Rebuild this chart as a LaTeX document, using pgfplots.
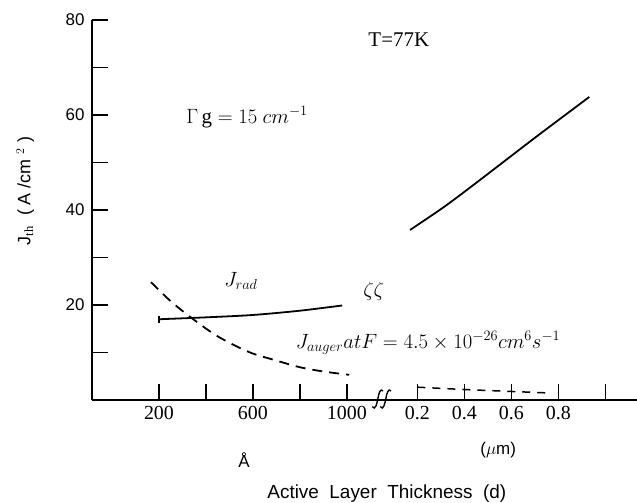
\documentclass[border=0pt]{standalone}
\usepackage{fontspec}
\setmainfont{Liberation Serif}
\setsansfont{Liberation Sans}
\usepackage{pgfplots}
\pgfplotsset{compat=1.18}

\begin{document}
\begin{tikzpicture}
\useasboundingbox (-92bp,-103bp) rectangle (545bp,400bp);
\begin{axis}[
    at={(0,0)}, anchor=south west,
    scale only axis,
    width=545bp, height=380bp,
    xmin=-85, xmax=2235,
    ymin=0, ymax=80,
    axis lines=left,
    axis line style={-, line width=1.8pt},
    clip=false,
    xtick={200,400,600,800,1000,1300,1500,1700,1900,2100},
    xticklabels={200,,600,,1000,0.2,0.4,0.6,0.8,},
    ytick={10,20,30,40,50,60,70,80},
    yticklabels={,20,,40,,60,,80},
    tick align=inside,
    major tick length=16bp,
    tick style={black, line width=1.4pt},
    /pgf/number format/assume math mode=true,
    xticklabel style={font=\rmfamily\fontsize{20}{20}\selectfont, yshift=-3bp},
    yticklabel style={font=\sffamily\fontsize{17}{17}\selectfont, xshift=-4bp},
]
% J_rad, solid
\addplot[black, line width=1.8pt, smooth, mark=|, mark indices={1}, mark size=3.5bp]
  coordinates {(200,17.0) (400,17.4) (600,17.9) (800,18.8) (980,19.9)};
% J_auger, dashed (Angstrom part)
\addplot[black, line width=1.8pt, smooth, dash pattern=on 10bp off 7bp]
  coordinates {(166,24.8) (250,20.8) (338,17.3) (450,13.4) (583,10.1) (700,8.3) (800,6.9) (900,6.0) (1010,5.3)};
% J_auger, dashed (micron part)
\addplot[black, line width=1.5pt, dash pattern=on 8bp off 7bp]
  coordinates {(1300,2.7) (1500,2.2) (1700,1.8) (1850,1.5)};
% J_th, solid (micron part)
\addplot[black, line width=1.8pt, smooth]
  coordinates {(1269,35.8) (1415,40.7) (1558,46.0) (1803,55.3) (2032,63.8)};

% break marks on the x axis
\draw[line width=1.4pt] (axis cs:1108,-1.4) .. controls (axis cs:1122,-2.4) and (axis cs:1128,-0.6) .. (axis cs:1132,0.3)
   .. controls (axis cs:1136,1.4) and (axis cs:1142,2.6) .. (axis cs:1154,1.9);
\draw[line width=1.4pt] (axis cs:1142,-1.4) .. controls (axis cs:1156,-2.4) and (axis cs:1162,-0.6) .. (axis cs:1166,0.3)
   .. controls (axis cs:1170,1.4) and (axis cs:1176,2.6) .. (axis cs:1188,1.9);

% annotations
\node[font=\rmfamily\fontsize{21}{21}\selectfont] at (axis cs:1221,75.8) {T=77K};
\node[font=\fontsize{21}{21}\selectfont] at (axis cs:575,59.6) {$\Gamma\,\mathrm{g} = 15\ cm^{-1}$};
\node[font=\fontsize{20}{20}\selectfont] at (axis cs:549,25) {$J_{rad}$};
\node[font=\fontsize{20}{20}\selectfont, anchor=west, inner sep=0pt] at (axis cs:782,12) {$J_{auger}atF = 4.5\times10^{-26}cm^{6}s^{-1}$};
\node[font=\fontsize{22}{22}\selectfont] at (axis cs:1114,22.9) {$\zeta\zeta$};
\node[font=\sffamily\fontsize{17}{17}\selectfont] at (axis cs:562,-12.6) {Å};
\node[font=\sffamily\fontsize{17}{17}\selectfont] at (axis cs:1644,-10.5) {($\mu$m)};
\node[font=\sffamily\fontsize{19}{19}\selectfont] at (axis cs:1170,-19.8) {Active\ \ Layer\ \ Thickness\ \ (d)};
\node[font=\sffamily\fontsize{18}{18}\selectfont, rotate=90] at (axis cs:-369,44) {J$_{\mathrm{th}}$\ \ ( A /cm $^{2}$ )};
\end{axis}
\end{tikzpicture}
\end{document}
